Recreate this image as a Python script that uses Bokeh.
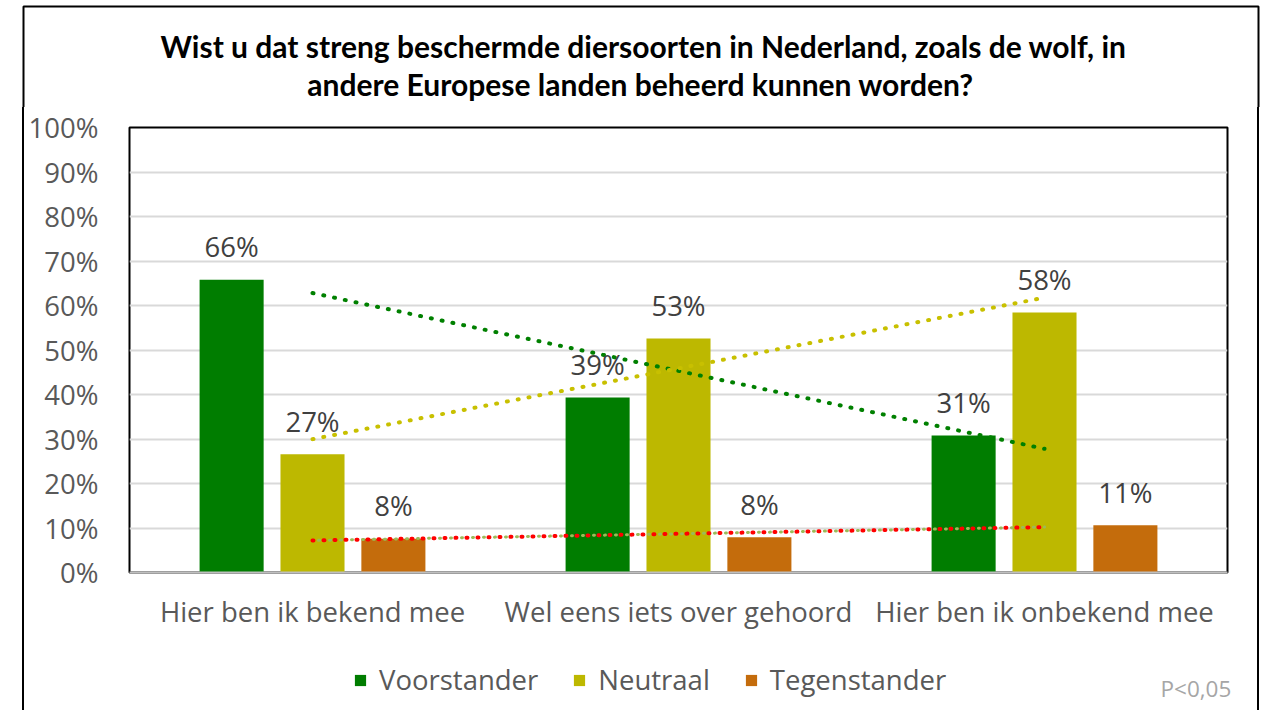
import numpy as np
from bokeh.plotting import figure
from bokeh.layouts import column
from bokeh.models import (ColumnDataSource, LabelSet, Label, Legend, LegendItem,
                          BoxAnnotation, FixedTicker, PrintfTickFormatter, Range1d)
from bokeh.core.properties import value
from bokeh.embed import file_html
from bokeh.resources import INLINE

# ---------------- data ----------------
title_lines = ["Wist u dat streng beschermde diersoorten in Nederland, zoals de wolf, in",
               "andere Europese landen beheerd kunnen worden?"]
categories = ["Hier ben ik bekend mee", "Wel eens iets over gehoord", "Hier ben ik onbekend mee"]
series_names = ["Voorstander", "Neutraal", "Tegenstander"]
voorstander = [65.8, 39.3, 30.8]
neutraal = [26.6, 52.6, 58.4]
tegenstander = [7.6, 7.9, 10.6]
y_ticks = [0, 10, 20, 30, 40, 50, 60, 70, 80, 90, 100]
note = "P<0,05"

bar_colors = ["#007D00", "#BDB800", "#C46C0C"]
trend_colors = ["#008000", "#C8C000", "#FF0000"]
FONT = "Open Sans"
GREY = "#595959"
TICK_SIZE = "27.5px"

W = 1263
TOP_H, MAIN_H, BOT_H = 107, 538, 65
BORDER_L, BORDER_R = 23, 1258      # outer chart border (page x)
BORDER_CSS = {"background": "linear-gradient(to right, white 22px, black 22px, black 24px, "
                            "white 24px, white 1257px, black 1257px, black 1259px, white 1259px)"}


def strip(width, height):
    f = figure(width=width, height=height, output_backend="svg", toolbar_location=None,
               x_range=Range1d(0, width), y_range=Range1d(0, height),
               x_axis_type=None, y_axis_type=None, frame_align=False,
               min_border_left=0, min_border_right=0, min_border_top=0, min_border_bottom=0)
    f.title.visible = False
    f.title.text_font_size = "0px"
    f.title.standoff = 0
    f.outline_line_color = None
    f.background_fill_color = "white"
    f.border_fill_color = "white"
    f.grid.visible = False
    return f


# ---------------- main chart ----------------
p = figure(width=W, height=MAIN_H, output_backend="svg", toolbar_location=None,
           x_range=Range1d(0.5, 3.5), y_range=Range1d(0, 100), frame_align=False,
           min_border_left=129, min_border_right=36, min_border_top=20, min_border_bottom=73)
p.title.visible = False
p.title.text_font_size = "0px"
p.title.standoff = 0
p.background_fill_color = "white"
p.border_fill_alpha = 0
p.outline_line_color = "black"
p.outline_line_width = 2
p.styles = BORDER_CSS

xs = np.arange(1, len(categories) + 1)
offsets = [-0.221, 0.0, 0.221]
series = [voorstander, neutraal, tegenstander]

for name, vals, color, off in zip(series_names, series, bar_colors, offsets):
    src = ColumnDataSource(dict(x=xs + off, top=vals,
                                label=[f"{int(round(v))}%" for v in vals]))
    p.vbar(x="x", top="top", width=0.175, source=src, fill_color=color, line_color=None)
    p.add_layout(LabelSet(x="x", y="top", text="label", source=src, text_align="center",
                          text_baseline="middle", y_offset=33, text_font=value(FONT),
                          text_font_size=TICK_SIZE, text_color="#404040"))

# linear trend lines (least squares over the three categories)
coef_t = np.polyfit(xs, tegenstander, 1)
p.line(xs, np.polyval(coef_t, xs), line_color="#9BBB59", line_width=3,
       line_dash="1 10", line_dash_offset=5, line_cap="round")
for vals, color in zip(series, trend_colors):
    coef = np.polyfit(xs, vals, 1)
    p.line(xs, np.polyval(coef, xs), line_color=color, line_width=4,
           line_dash="1 10", line_cap="round")

p.xaxis.ticker = FixedTicker(ticks=list(xs))
p.xaxis.major_label_overrides = {int(i): c for i, c in zip(xs, categories)}
p.xaxis.major_tick_line_color = None
p.xaxis.minor_tick_line_color = None
p.xaxis.major_tick_out = 0
p.xaxis.major_tick_in = 0
p.xaxis.axis_line_color = "#bfbfbf"
p.xaxis.axis_line_width = 2
p.xaxis.major_label_text_font = FONT
p.xaxis.major_label_text_font_size = TICK_SIZE
p.xaxis.major_label_text_color = GREY
p.xaxis.major_label_standoff = 20

p.yaxis.ticker = FixedTicker(ticks=y_ticks)
p.yaxis.formatter = PrintfTickFormatter(format="%d%%")
p.yaxis.axis_line_color = None
p.yaxis.major_tick_line_color = None
p.yaxis.minor_tick_line_color = None
p.yaxis.major_tick_out = 0
p.yaxis.major_tick_in = 0
p.yaxis.major_label_text_font = FONT
p.yaxis.major_label_text_font_size = TICK_SIZE
p.yaxis.major_label_text_color = GREY
p.yaxis.major_label_standoff = 31

p.xgrid.visible = False
p.ygrid.grid_line_color = "#d9d9d9"
p.ygrid.grid_line_width = 2

# ---------------- top strip: title + border ----------------
top = strip(W, TOP_H)
for text, cx, cy in zip(title_lines, [643, 640], [TOP_H - 45, TOP_H - 83]):
    top.add_layout(Label(x=cx, y=cy, text=text, text_font="Lato", text_font_style="bold",
                         text_font_size="30px", text_color="black",
                         text_align="center", text_baseline="middle"))
top.add_layout(BoxAnnotation(left=BORDER_L, right=BORDER_R, top=TOP_H - 6, bottom=-50,
                             fill_alpha=0, line_color="black", line_alpha=1, line_width=2))

# ---------------- bottom strip: legend, note, border ----------------
bot = strip(W, BOT_H)
bot.background_fill_alpha = 0
bot.border_fill_alpha = 0
bot.styles = BORDER_CSS
swatches = [bot.vbar(x=[0], top=[0], width=0, fill_color=c, line_color=None) for c in bar_colors]
legend = Legend(items=[LegendItem(label=n, renderers=[r]) for n, r in zip(series_names, swatches)],
                orientation="horizontal", location=(353, 12),
                label_text_font=FONT, label_text_font_size=TICK_SIZE, label_text_color=GREY,
                glyph_width=14, glyph_height=14, label_standoff=12, spacing=34,
                padding=0, margin=0, border_line_color=None, background_fill_alpha=0)
bot.add_layout(legend, "center")
bot.add_layout(Label(x=1160, y=BOT_H - (688 - 645), text=note, text_font=FONT,
                     text_font_size="22.5px", text_color="#A6A6A6",
                     text_align="left", text_baseline="middle"))

layout = column(top, p, bot, spacing=0)
open("out.html", "w").write(file_html(layout, INLINE))
